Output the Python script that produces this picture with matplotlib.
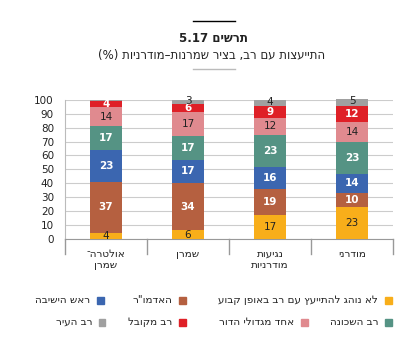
import re
import numpy as np
import matplotlib
matplotlib.use("Agg")
from matplotlib import pyplot as plt
from matplotlib.patches import Rectangle

plt.rcParams['font.family'] = ['DejaVu Sans']


def rtl(s):
    # matplotlib has no bidi support: turn logical Hebrew order into visual order
    out = []
    for line in s.split('\n'):
        toks = re.findall(r'[0-9.]+|.', line)[::-1]
        mirror = {'(': ')', ')': '('}
        out.append(''.join(mirror.get(t, t) for t in toks))
    return '\n'.join(out)


categories = ['אולטרה־\nשמרן', 'שמרן', 'נגיעות\nמודרניות', 'מודרני']
series = ['לא נוהג להתייעץ עם רב באופן קבוע', 'האדמו"ר', 'ראש הישיבה',
          'רב השכונה', 'אחד מגדולי הדור', 'רב מקובל', 'רב העיר']
no_regular = [4, 6, 17, 23]
admor = [37, 34, 19, 10]
rosh_yeshiva = [23, 17, 16, 14]
neighborhood = [17, 17, 23, 23]
gedolei_hador = [14, 17, 12, 14]
mekubal = [4, 6, 9, 12]
city_rabbi = [1, 3, 4, 5]
values = [no_regular, admor, rosh_yeshiva, neighborhood, gedolei_hador, mekubal, city_rabbi]

colors = ['#F8AE1A', '#B56040', '#3B66B0', '#559384', '#E08A8F', '#DF2027', '#A0A0A0']
text_colors = ['#222222', 'white', 'white', 'white', '#222222', 'white', '#222222']
bold = [False, True, True, True, False, True, False]

W, H = 417, 355
fig = plt.figure(figsize=(W / 100, H / 100), dpi=100)
ax = fig.add_axes([65 / W, (H - 238.7) / H, (393 - 65) / W, (238.7 - 100) / H])

x = np.arange(len(categories))
bottom = np.zeros(len(categories))
for i, (vals, c, tc, b) in enumerate(zip(values, colors, text_colors, bold)):
    vals = np.array(vals, dtype=float)
    ax.bar(x, vals, 0.4, bottom=bottom, color=c, clip_on=False, zorder=3)
    for xi, v, b0 in zip(x, vals, bottom):
        if v >= 3:
            yy = b0 + v / 2 + (0.8 if i == len(values) - 1 else 0)
            ax.text(xi, yy, str(int(v)), ha='center', va='center', fontsize=7.5,
                    color=tc, fontweight='bold' if b else 'normal', zorder=4)
    bottom += vals

ax.set_xlim(-0.5, 3.5)
ax.set_ylim(0, 100)
ax.set_yticks(range(0, 101, 10))
ax.tick_params(axis='y', length=0, labelsize=7.5, pad=8, colors='#222222')
ax.yaxis.grid(True, color='#cccccc', lw=0.8, zorder=0)
ax.set_xticks([])
for s in ['top', 'right']:
    ax.spines[s].set_visible(False)
ax.spines['left'].set_color('#bbbbbb')
ax.spines['bottom'].set_color('#999999')

# category separators and labels
for xs in np.arange(-0.5, 4, 1):
    ax.plot([xs, xs], [0, -11], color='#999999', lw=1, clip_on=False)
for xi, cat in zip(x, categories):
    ax.text(xi, -7.5, rtl(cat), ha='center', va='top', fontsize=7.5,
            color='#222222', linespacing=1.15)

# title block
fig.add_artist(plt.Line2D([193 / W, 235 / W], [1 - 21 / H] * 2, color='black', lw=1))
fig.text(213 / W, 1 - 39 / H, rtl('תרשים 5.17'), ha='center', va='center',
         fontsize=8.5, fontweight='bold', color='#222222')
fig.text(212 / W, 1 - 55 / H, rtl('התייעצות עם רב, בציר שמרנות–מודרניות (%)'),
         ha='center', va='center', fontsize=8.5, color='#222222')
fig.add_artist(plt.Line2D([193 / W, 235 / W], [1 - 69 / H] * 2, color='#bbbbbb', lw=1))

# legend (right to left)
legend_pos = [(388, 300), (182, 300), (100, 300),
              (388, 322), (304, 322), (182, 322), (102, 322)]
for name, c, (mx, my) in zip(series, colors, legend_pos):
    fig.add_artist(Rectangle(((mx - 3.5) / W, 1 - (my + 3.5) / H), 7 / W, 7 / H,
                             color=c, transform=fig.transFigure))
    fig.text((mx - 10) / W, 1 - my / H, rtl(name), ha='right', va='center',
             fontsize=7.5, color='#222222')

fig.savefig('out.png', dpi=100)
